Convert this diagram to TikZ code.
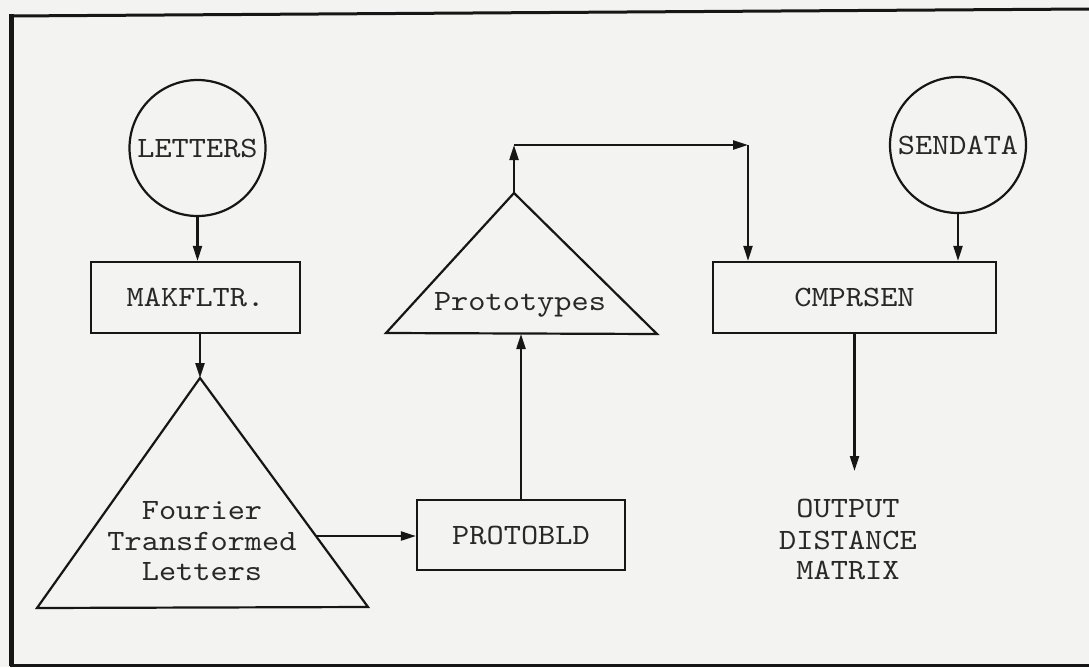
\documentclass[tikz,border=0pt]{standalone}
\usepackage{fontspec}
\newfontfamily\twfont[FakeStretch=1.11]{lmmono10-regular.otf}
\usetikzlibrary{arrows.meta,calc}
\definecolor{paper}{RGB}{243,243,241}
\definecolor{ink}{RGB}{22,22,22}
\definecolor{tink}{RGB}{40,40,40}
\begin{document}
\begin{tikzpicture}[x=1pt,y=-1pt,line width=2.2pt,
  every node/.style={font=\twfont\fontsize{29.5}{31}\selectfont,text=tink},
  arr/.style={draw=ink,line width=2.2pt,-{Triangle[length=15pt,width=9pt]}},
  shp/.style={draw=ink,line width=2.2pt},
  circ/.style={draw=ink,line width=2.2pt,circle,minimum size=136pt,inner sep=0pt},
  procbox/.style={draw=ink,line width=2.2pt,rectangle,inner sep=0pt},
  tline/.style={inner sep=0pt,anchor=base},
  frame/.style={draw=ink,line width=3pt}]
\fill[paper] (0,0) rectangle (1089,667);
\useasboundingbox (0,0) rectangle (1089,667);
% frame
\draw[frame] (10,16) -- (1089,9);
\draw[frame,line width=5pt] (11,14) -- (11,666);
\draw[frame] (10,665) -- (1089,665);
% nodes
\node[circ] (letters) at (197.5,148) {LETTERS};
\node[circ] (sendata) at (958,145) {SENDATA};
\node[procbox,minimum width=209pt,minimum height=71pt] (makfltr) at (195.5,297.5) {MAKFLTR.};
\node[procbox,minimum width=208pt,minimum height=70pt] (protobld) at (521,535) {PROTOBLD};
\node[procbox,minimum width=283pt,minimum height=71pt] (cmprsen) at (854.5,297.5) {CMPRSEN};
% Fourier triangle
\coordinate (fapex) at (200,378);
\coordinate (fleft) at (37,608);
\coordinate (fright) at (368,607);
\draw[shp] (fapex) -- (fright) -- (fleft) -- cycle;
\node[tline] (ft1) at (202,519) {Fourier};
\node[tline] (ft2) at (202,550) {Transformed};
\node[tline] (ft3) at (202,580) {Letters};
\coordinate (fside) at ($(fapex)!0.69!(fright)$);
% Prototypes triangle
\coordinate (papex) at (514,193);
\coordinate (pleft) at (386,333);
\coordinate (pright) at (657,334);
\draw[shp] (papex) -- (pright) -- (pleft) -- cycle;
\node[tline] (proto) at (520,310) {Prototypes};
\coordinate (pbase) at (519,334);
% output text
\node[tline] (out1) at (848,517) {OUTPUT};
\node[tline] (out2) at (848,549) {DISTANCE};
\node[tline] (out3) at (848,579) {MATRIX};
% connectors
\coordinate (c1) at (514,145);
\coordinate (c2) at (748,145);
\coordinate (otip) at (854.5,471);
\draw[arr] (letters.south) -- (letters.south |- makfltr.north);
\draw[arr] (fapex |- makfltr.south) -- (fapex);
\draw[arr] (fside) -- (fside -| protobld.west);
\draw[arr] (protobld.north) -- (protobld.north |- pbase);
\draw[arr] (papex) -- (c1);
\draw[arr] (c1) -- (c2);
\draw[arr] (c2) -- (c2 |- cmprsen.north);
\draw[arr] (sendata.south) -- (sendata.south |- cmprsen.north);
\draw[arr] (cmprsen.south) -- (otip);
\end{tikzpicture}
\end{document}
